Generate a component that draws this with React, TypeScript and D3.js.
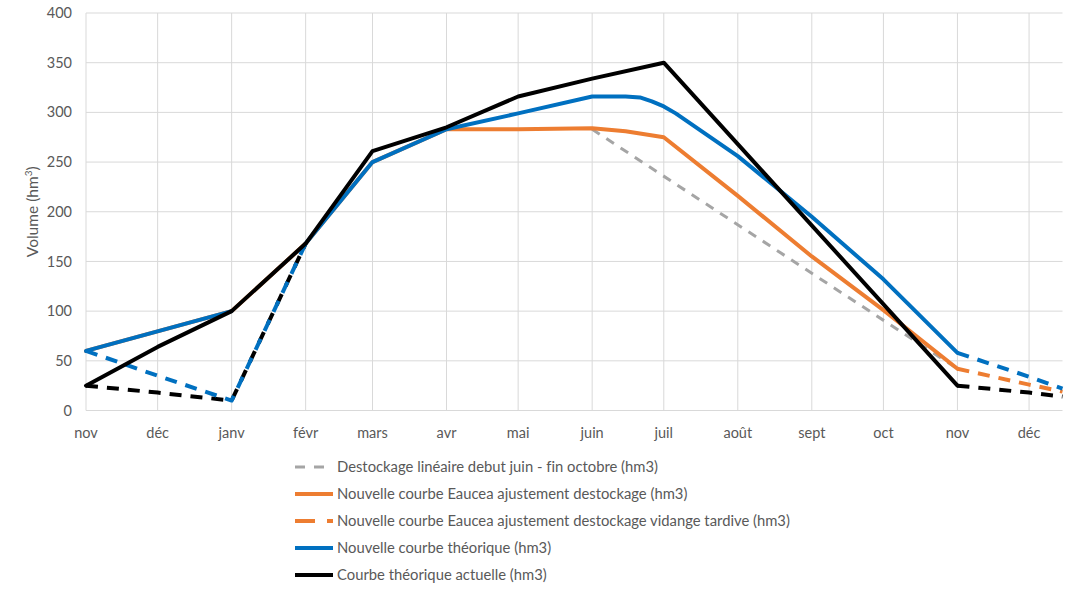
import React from 'react';
import * as d3 from 'd3';

const monthLabels = ['nov', 'déc', 'janv', 'févr', 'mars', 'avr', 'mai', 'juin', 'juil', 'août', 'sept', 'oct', 'nov', 'déc'];
const monthStarts = ['2018-11-01', '2018-12-01', '2019-01-01', '2019-02-01', '2019-03-01', '2019-04-01', '2019-05-01', '2019-06-01', '2019-07-01', '2019-08-01', '2019-09-01', '2019-10-01', '2019-11-01', '2019-12-01'];
const yTicks = [0, 50, 100, 150, 200, 250, 300, 350, 400];

// Destockage linéaire debut juin - fin octobre
const grayDates = ['2019-06-01', '2019-11-01'];
const grayValues = [283, 42];

// Nouvelle courbe Eaucea ajustement destockage
const orangeDates = ['2018-11-01', '2019-01-01', '2019-02-01', '2019-03-01', '2019-04-01', '2019-05-01', '2019-06-01', '2019-06-15', '2019-07-01', '2019-08-01', '2019-09-01', '2019-10-01', '2019-11-01'];
const orangeValues = [60, 100, 168, 250, 283, 283, 284, 281, 275, 216, 155, 101, 42];

// Nouvelle courbe Eaucea ajustement destockage vidange tardive
const orangeDashDates = ['2019-11-01', '2019-12-01', '2019-12-15'];
const orangeDashValues = [42, 26, 19];

// Nouvelle courbe théorique (solid parts)
const blueDatesA = ['2018-11-01', '2019-01-01'];
const blueValuesA = [60, 100];
const blueDatesB = ['2019-02-01', '2019-03-01', '2019-04-01', '2019-05-01', '2019-06-01', '2019-06-15', '2019-06-21', '2019-06-26', '2019-07-01', '2019-07-06', '2019-08-01', '2019-09-01', '2019-10-01', '2019-11-01'];
const blueValuesB = [168, 250, 283, 299, 316, 316, 315, 311, 306, 299, 256, 195, 132, 58];
// Nouvelle courbe théorique (dashed parts)
const blueDashDatesA = ['2018-11-01', '2018-12-01', '2019-01-01', '2019-02-01'];
const blueDashValuesA = [60, 35, 10, 168];
const blueDashDatesB = ['2019-11-01', '2019-12-01', '2019-12-15'];
const blueDashValuesB = [58, 34, 22];

// Courbe théorique actuelle
const blackDates = ['2018-11-01', '2018-12-01', '2019-01-01', '2019-02-01', '2019-03-01', '2019-04-01', '2019-05-01', '2019-06-01', '2019-07-01', '2019-11-01'];
const blackValues = [25, 64, 100, 168, 261, 285, 316, 334, 350, 25];
const blackDashDatesA = ['2018-11-01', '2018-12-01', '2019-01-01', '2019-02-01'];
const blackDashValuesA = [25, 18, 10, 168];
const blackDashDatesB = ['2019-11-01', '2019-12-01', '2019-12-15'];
const blackDashValuesB = [25, 18, 14];

const legendItems = [
  { label: 'Destockage linéaire debut juin - fin octobre (hm3)', color: '#a5a5a5', dash: '10 9', width: 3 },
  { label: 'Nouvelle courbe Eaucea ajustement destockage (hm3)', color: '#ed7d31', dash: '', width: 4 },
  { label: 'Nouvelle courbe Eaucea ajustement destockage vidange tardive (hm3)', color: '#ed7d31', dash: '20 12', width: 4 },
  { label: 'Nouvelle courbe théorique (hm3)', color: '#0070c0', dash: '', width: 4 },
  { label: 'Courbe théorique actuelle (hm3)', color: '#000000', dash: '', width: 4 },
];

const W = 1065;
const H = 589;
const FONT = 'Lato, "Open Sans", sans-serif';
const TEXT = '#595959';

const parse = (s: string) => new Date(s + 'T00:00:00Z');

export default function App() {
  const x = d3.scaleUtc().domain([parse('2018-11-01'), parse('2019-12-15')]).range([86, 1062.5]);
  const y = d3.scaleLinear().domain([0, 400]).range([410.5, 13]);
  const line = d3.line<[string, number]>().x((d) => x(parse(d[0]))).y((d) => y(d[1]));
  const mk = (dates: string[], vals: number[]) => line(dates.map((d, i) => [d, vals[i]] as [string, number])) || '';

  const DASH = '12 9';
  const series = [
    { d: mk(grayDates, grayValues), color: '#a5a5a5', dash: '9 8', w: 3 },
    { d: mk(orangeDates, orangeValues), color: '#ed7d31', dash: '', w: 4 },
    { d: mk(orangeDashDates, orangeDashValues), color: '#ed7d31', dash: DASH, w: 4 },
    { d: mk(blackDashDatesA, blackDashValuesA), color: '#000000', dash: DASH, w: 4 },
    { d: mk(blackDashDatesB, blackDashValuesB), color: '#000000', dash: DASH, w: 4 },
    { d: mk(blueDatesA, blueValuesA), color: '#0070c0', dash: '', w: 4 },
    { d: mk(blueDatesB, blueValuesB), color: '#0070c0', dash: '', w: 4 },
    { d: mk(blueDashDatesA, blueDashValuesA), color: '#0070c0', dash: DASH, w: 4 },
    { d: mk(blueDashDatesB, blueDashValuesB), color: '#0070c0', dash: DASH, w: 4 },
    { d: mk(blackDates, blackValues), color: '#000000', dash: '', w: 4 },
  ];

  const [x0, x1] = x.range();
  return (
    <svg width={W} height={H} style={{ position: 'absolute', left: 0, top: 0, background: '#fff', fontVariantLigatures: 'none' }} fontFamily={FONT}>
      {yTicks.map((t) => (
        <g key={'y' + t}>
          <line x1={x0} x2={x1} y1={y(t)} y2={y(t)} stroke="#d9d9d9" strokeWidth={1} />
          <text x={72} y={y(t)} dy="0.35em" textAnchor="end" fontSize={14.5} fill={TEXT}>{t}</text>
        </g>
      ))}
      {monthStarts.map((m, i) => (
        <g key={'x' + i}>
          <line x1={x(parse(m))} x2={x(parse(m))} y1={y(400)} y2={y(0)} stroke="#d9d9d9" strokeWidth={1} />
          <text x={x(parse(m))} y={433} dy="0.35em" textAnchor="middle" fontSize={14.5} fill={TEXT}>{monthLabels[i]}</text>
        </g>
      ))}
      <text transform={`translate(33,${(y(0) + y(400)) / 2}) rotate(-90)`} textAnchor="middle" dy="0.35em" fontSize={15.5} fill={TEXT}>
        Volume (hm<tspan dy="-6" fontSize={10}>3</tspan><tspan dy="6">)</tspan>
      </text>
      {series.map((s, i) => (
        <path key={'s' + i} d={s.d} fill="none" stroke={s.color} strokeWidth={s.w} strokeDasharray={s.dash || undefined} strokeLinejoin="round" strokeLinecap={s.dash ? 'butt' : 'round'} />
      ))}
      {legendItems.map((it, i) => {
        const ly = 467 + i * 27;
        return (
          <g key={'l' + i}>
            <line x1={295} x2={333} y1={ly} y2={ly} stroke={it.color} strokeWidth={it.width} strokeDasharray={it.dash || undefined} />
            <text x={337} y={ly} dy="0.35em" fontSize={14.8} fill={TEXT}>{it.label}</text>
          </g>
        );
      })}
    </svg>
  );
}
